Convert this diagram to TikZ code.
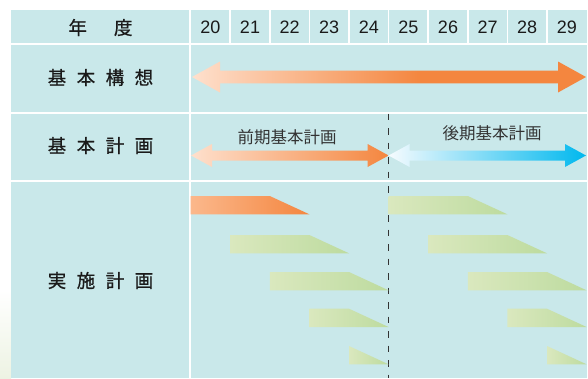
\documentclass[tikz,border=0pt]{standalone}
\usepackage{fontspec}
\setmainfont{Liberation Sans}
\newfontfamily\cjk{Noto Sans CJK JP}
\newfontfamily\cjkb[FakeBold=0.8]{Noto Sans CJK JP}
\definecolor{cellbg}{HTML}{C9E8EA}
\definecolor{peachA}{HTML}{FEE0CD}
\definecolor{orangeA}{HTML}{F4863F}
\definecolor{barOL}{HTML}{FBB88C}
\definecolor{gL}{HTML}{DAE8BE}
\definecolor{gR}{HTML}{BDDB9F}
\definecolor{blueL}{HTML}{F6FBFE}
\definecolor{blueM}{HTML}{A4DCF4}
\definecolor{blueR}{HTML}{00B8EE}
\definecolor{glow}{HTML}{EDF3E3}
\definecolor{txt}{HTML}{1A1A1A}
\pgfdeclarehorizontalshading{orangebig}{100bp}{color(0bp)=(peachA); color(25bp)=(peachA); color(54bp)=(orangeA); color(100bp)=(orangeA)}
\pgfdeclarehorizontalshading{orangesmall}{100bp}{color(0bp)=(peachA); color(25bp)=(peachA); color(75bp)=(orangeA); color(100bp)=(orangeA)}
\newcommand\mybar[5]{% left, top-right, bottom-right, ytop, style
  \shade[#5] (#1,#4) -- (#2,#4) -- (#3,#4+18.3) -- (#1,#4+18.3) -- cycle;}
\newcommand\myarrow[7]{% x1,x2,y,h,H,s,style
  \shade[#7] (#1,#3) -- (#1+#4,#3-#5) -- (#1+#4,#3-#6) -- (#2-#4,#3-#6) -- (#2-#4,#3-#5)
    -- (#2,#3) -- (#2-#4,#3+#5) -- (#2-#4,#3+#6) -- (#1+#4,#3+#6) -- (#1+#4,#3+#5) -- cycle;}
\tikzset{
  lab/.style={font=\cjkb\fontsize{18.5}{18.5}\selectfont, text=txt, inner sep=0pt},
  sublab/.style={font=\cjk\fontsize{16.5}{16.5}\selectfont, text=black!80, inner sep=0pt},
  yr/.style={font=\fontsize{18}{18}\selectfont, text=txt, inner sep=0pt},
  sep/.style={draw=white, line width=1.6pt},
  gbar/.style={left color=gL, right color=gR},
  obar/.style={left color=barOL, right color=orangeA}
}
\begin{document}
\begin{tikzpicture}[x=1pt,y=-1pt]
\useasboundingbox (0,0) rectangle (588,378);
\fill[white] (0,0) rectangle (588,378);
% faint glow lower left
\shade[top color=white, bottom color=glow] (0,290) rectangle (11,378);
% table background
\fill[cellbg] (11,10) rectangle (586.6,378);
\draw[sep] (190,10) -- (190,378);
\foreach \yy in {44,112.7,181} \draw[sep] (11,\yy) -- (586.6,\yy);
\foreach \i in {1,...,9} \draw[sep] ({190.6+39.6*\i},10) -- ({190.6+39.6*\i},44);
% years
\foreach \i in {0,...,9} {
  \pgfmathtruncatemacro\yv{20+\i}
  \node[yr] (yr\i) at ({210.4+39.6*\i},27.5) {\yv};
}
% row labels
\node[lab] (nendo) at (100.5,27.5) {年\hspace{27pt}度};
\node[lab] (kousou) at (100.5,77.5) {基\hspace{10.5pt}本\hspace{10.5pt}構\hspace{10.5pt}想};
\node[lab] (keikaku) at (100.5,145.5) {基\hspace{10.5pt}本\hspace{10.5pt}計\hspace{10.5pt}画};
\node[lab] (jisshi) at (100.5,280.5) {実\hspace{10.5pt}施\hspace{10.5pt}計\hspace{10.5pt}画};
% dashed divider
\coordinate (dtop) at (388.6,113.5);
\coordinate (dbot) at (388.6,378);
\draw[black!80, line width=1.1pt, dash pattern=on 6.5pt off 8pt] (dtop) -- (dbot);
% arrows
\myarrow{192}{586}{77}{28}{15.5}{6.3}{shading=orangebig}
\myarrow{191}{388.6}{155.5}{21}{11.5}{5}{shading=orangesmall}
\myarrow{388.6}{586}{155.5}{21}{11.5}{5}{left color=blueL, middle color=blueM, right color=blueR}
\node[sublab] (zenki) at (287,137) {前期基本計画};
\node[sublab] (kouki) at (492,133.5) {後期基本計画};
% bars
\mybar{190.6}{269.8}{309.4}{196}{obar}
\mybar{388.6}{467.8}{507.4}{196}{gbar}
\mybar{230.2}{309.4}{349}{235}{gbar}
\mybar{428.2}{507.4}{547}{235}{gbar}
\mybar{269.8}{349}{388.6}{272}{gbar}
\mybar{467.8}{547}{586.6}{272}{gbar}
\mybar{309.4}{349}{388.6}{308.7}{gbar}
\mybar{507.4}{547}{586.6}{308.7}{gbar}
\mybar{349}{349}{388.6}{346}{gbar}
\mybar{547}{547}{586.6}{346}{gbar}
\end{tikzpicture}
\end{document}
